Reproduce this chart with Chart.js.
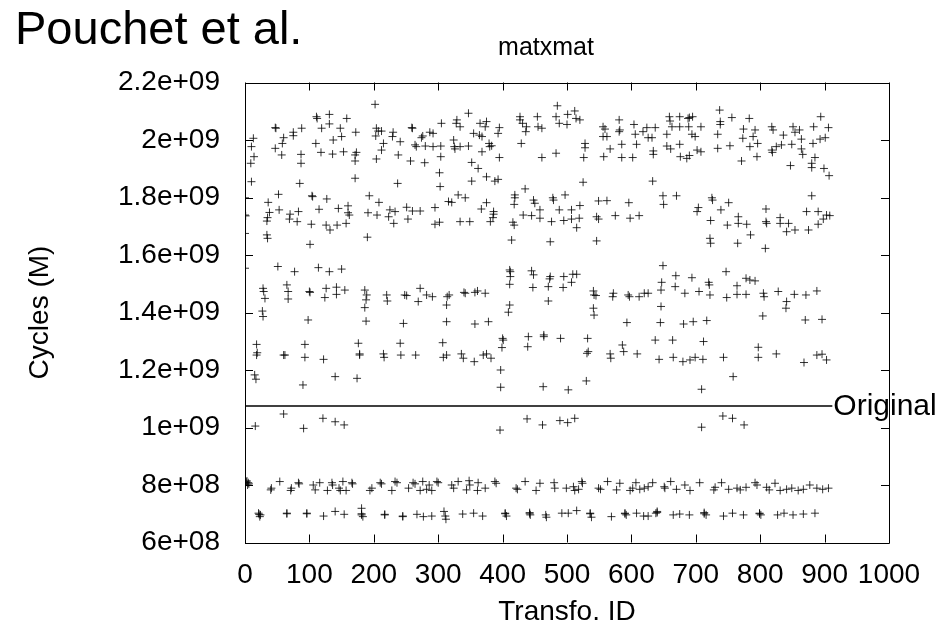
<!DOCTYPE html>
<html>
<head>
<meta charset="utf-8">
<script src="https://cdn.jsdelivr.net/npm/chart.js@4/dist/chart.umd.min.js"></script>
<style>
  body { margin: 0; background: #fff; }
  canvas { display: block; }
</style>
</head>
<body>
<canvas id="cyclesChart" width="939" height="632"></canvas>
<script>
// [transformation id, cycles in millions]
var band2000 = [
  [202,2124],[111,2081],[112,2075],[131,2089],[158,2075],[131,2056],[47,2043],[48,2041],[60,2008],[75,2027],
  [75,2015],[88,2041],[119,2041],[148,2041],[150,2012],[137,2000],[172,2027],[204,2041],[207,2031],[212,2031],
  [203,2014],[230,2027],[229,2012],[241,1994],[259,2043],[260,2041],[276,2014],[274,2008],[287,2027],[292,2023],
  [305,2058],[13,2006],[10,1977],[14,1942],[9,1919],[10,1855],[47,1971],[58,1988],[57,1948],[87,1950],
  [87,1919],[85,1849],[110,1988],[118,1957],[136,1951],[153,1959],[171,1948],[173,1957],[171,1927],[171,1867],
  [215,1988],[212,1965],[204,1934],[238,1948],[237,1849],[257,1927],[279,1921],[264,1983],[266,1977],[280,1979],
  [292,1977],[304,1979],[304,1942],[302,1886],[303,1838],
  [347,2093],[329,2070],[328,2058],[334,2046],[365,2058],[375,2064],[373,2046],[355,2023],[364,2017],[368,2012],
  [395,2043],[393,2023],[427,2081],[427,2070],[431,2058],[437,2046],[436,2029],[454,2081],[455,2046],[461,2041],
  [485,2119],[483,2081],[488,2058],[500,2054],[501,2089],[512,2101],[514,2075],[520,2070],[556,2046],[559,2038],
  [556,2012],[562,2012],[581,2070],[581,2029],[582,2035],[604,2054],[606,2020],[618,2029],[624,2043],[626,2008],
  [324,2000],[325,1977],[326,1969],[334,1977],[347,1979],[368,1959],[379,1988],[380,1977],[383,1980],[395,1939],
  [352,1922],[362,1901],[429,1988],[461,1939],[483,1954],[528,1988],[528,1973],[526,1939],[567,1969],[585,1985],
  [608,1985],[557,1942],[585,1939],[602,1939],[352,1857],[375,1872],[388,1857],[393,1863],[525,1853],
  [737,2104],[659,2081],[660,2066],[675,2081],[688,2075],[690,2078],[695,2081],[637,2043],[632,2008],[655,2020],
  [663,2046],[675,2046],[689,2046],[694,2020],[699,2012],[708,2046],[734,2020],[738,2064],[738,2054],[756,2078],
  [774,2038],[783,2075],[792,2035],[789,2012],[773,2006],[818,2046],[820,2035],[836,2017],[851,2046],[854,2027],
  [861,2035],[883,2046],[894,2081],[906,2043],[901,2008],[893,2003],[882,1988],[864,2003],[771,1927],[795,1942],
  [847,1911],[880,1904],[880,1919],[885,1939],[899,1901],[907,1876],[633,1857],
  [634,1962],[634,1950],[655,1979],[661,1969],[675,1985],[676,1942],[686,1936],[690,1946],[702,1965],[708,1959],
  [734,1971],[753,1980],[784,1977],[796,1988],[818,1965],[819,1957],[825,1977],[833,1983],[849,1985],[864,1969],
  [866,1950]
];

var band1750 = [
  [0,1799],[0,1739],[1,1736],[0,1675],[0,1554],[36,1783],[38,1748],[35,1730],[34,1718],[52,1811],[53,1757],
  [70,1742],[69,1725],[81,1716],[83,1751],[104,1806],[105,1803],[103,1707],[101,1637],[115,1759],[127,1795],
  [126,1704],[132,1687],[145,1762],[143,1704],[157,1710],[160,1747],[160,1771],[162,1739],[193,1806],[208,1783],
  [191,1747],[205,1739],[225,1757],[223,1733],[233,1751],[231,1710],[251,1766],[253,1725],[260,1753],[272,1753],
  [295,1765],[295,1707],[302,1714],[316,1786],[34,1670],[35,1658],[190,1662],
  [321,1783],[331,1809],[342,1799],[375,1782],[367,1760],[386,1751],[386,1742],[385,1730],[419,1809],[419,1799],
  [418,1776],[435,1830],[448,1791],[450,1780],[458,1757],[432,1739],[445,1737],[458,1728],[478,1799],[479,1791],
  [497,1809],[488,1757],[476,1716],[507,1757],[520,1772],[495,1720],[507,1725],[519,1728],[515,1695],[334,1716],
  [349,1716],[381,1716],[416,1714],[418,1704],[549,1788],[562,1789],[546,1733],[549,1725],[575,1737],[596,1782],
  [598,1728],[612,1737],[414,1652],[474,1646],[546,1649],
  [649,1806],[650,1776],[670,1806],[725,1799],[726,1791],[751,1782],[739,1757],[704,1765],[702,1751],[723,1720],
  [749,1704],[766,1733],[766,1710],[779,1707],[785,1670],[809,1760],[809,1716],[810,1710],[831,1730],[831,1710],
  [844,1710],[841,1681],[854,1687],[875,1687],[872,1751],[890,1751],[890,1707],[898,1725],[903,1739],[908,1737],
  [880,1806],[722,1658],[723,1641],[765,1641],[808,1623]
];

var band1450 = [
  [51,1560],[77,1542],[114,1556],[131,1542],[150,1551],
  [28,1484],[29,1473],[31,1449],[65,1496],[67,1473],[67,1447],[100,1473],[101,1470],[126,1484],[124,1452],
  [142,1488],[142,1463],[155,1478],[186,1478],[189,1461],[188,1444],[186,1417],[220,1461],[221,1440],[248,1461],
  [251,1459],[272,1484],[269,1438],[282,1461],[291,1455],[314,1455],[313,1426],[27,1405],
  [28,1386],[98,1374],[188,1370],[246,1362],[313,1368],
  [411,1548],[412,1542],[412,1525],[411,1498],[445,1545],[448,1531],[447,1487],[474,1525],[473,1517],[471,1490],
  [495,1525],[494,1487],[509,1533],[515,1533],[507,1505],[317,1461],[340,1470],[342,1467],[357,1470],[361,1475],
  [373,1467],[411,1426],[409,1401],[471,1440],[541,1475],[542,1461],[545,1459],[541,1415],[572,1467],[571,1455],
  [595,1461],[597,1455],[612,1455],[620,1467],[626,1467],
  [357,1360],[378,1368],[542,1391],[593,1365],
  [649,1563],[647,1505],[646,1478],[646,1421],[669,1528],[668,1490],[694,1521],[720,1505],[721,1496],[722,1461],
  [747,1542],[748,1452],[764,1493],[764,1463],[778,1519],[784,1513],[792,1510],[778,1463],[805,1467],[806,1455],
  [828,1473],[853,1463],[841,1438],[840,1415],[871,1461],[888,1475],[683,1467],[705,1473],
  [645,1365],[681,1360],[696,1368],[717,1372],[804,1388],[870,1374],[896,1376]
];

var band1250 = [
  [18,1289],[19,1260],[18,1252],[60,1252],[62,1252],[93,1289],[93,1244],[122,1237],[176,1293],[178,1256],
  [178,1252],[215,1256],[216,1244],[241,1293],[242,1252],[265,1252],[307,1295],[308,1244],[313,1252],[15,1183],
  [17,1168],[90,1148],[140,1177],[174,1171],
  [336,1256],[339,1241],[356,1229],[370,1252],[375,1256],[382,1241],[400,1310],[401,1304],[399,1278],[397,1200],
  [397,1140],[440,1316],[439,1281],[464,1322],[464,1316],[490,1310],[463,1142],[502,1131],[532,1310],[531,1258],
  [533,1264],[530,1162],[567,1256],[568,1241],[586,1287],[588,1264],[609,1256],
  [637,1304],[664,1304],[643,1237],[665,1244],[680,1229],[691,1235],[699,1244],[712,1299],[711,1237],[743,1244],
  [797,1279],[797,1244],[825,1256],[868,1226],[888,1252],[896,1255],[903,1235],[758,1177],[709,1133]
];

var band1000 = [
  [16,1005],[60,1047],[91,997],[121,1032],[140,1020],[154,1009],[396,991],[438,1030],[462,1009],[489,1024],
  [501,1017],[512,1032],[709,1001],[742,1040],[757,1032],[775,1009]
];

var band800 = [
  [3,814],[2,810],[5,808],[6,804],[4,800],[41,789],[40,783],[54,812],[72,789],[71,781],[83,808],[84,804],
  [106,800],[109,783],[116,808],[128,781],[135,808],[136,800],[146,789],[148,781],[152,812],[157,781],[166,808],
  [167,804],[194,781],[197,789],[210,808],[212,804],[228,781],[233,812],[236,808],[254,789],[261,808],[264,804],
  [272,781],[276,812],[282,785],[286,800],[290,781],[298,812],[300,808],
  [321,800],[324,789],[331,812],[344,783],[348,815],[349,800],[361,781],[362,808],[373,789],[388,812],[390,806],
  [421,789],[423,785],[435,812],[452,781],[458,806],[480,808],[481,789],[499,789],[510,794],[512,781],[518,785],
  [523,812],[524,806],[549,789],[552,785],[563,812],[577,783],[582,806],[598,781],[602,789],[607,808],[613,785],
  [620,789],[626,794],
  [633,808],[651,794],[652,789],[661,812],[670,785],[683,800],[691,781],[706,808],[728,783],[730,792],[740,808],
  [751,785],[764,789],[769,783],[778,792],[792,808],[795,800],[810,792],[814,783],[823,806],[831,781],[841,785],
  [849,789],[859,781],[867,785],[877,800],[888,789],[897,785],[906,789]
];

var band700 = [
  [21,702],[22,698],[24,696],[23,690],[65,702],[65,700],[96,702],[96,700],[122,692],[140,708],[154,698],[181,719],
  [181,696],[181,700],[183,690],[217,696],[217,698],[245,690],[245,692],[267,698],[277,690],[290,692],
  [309,708],[311,692],[312,681],[338,699],[355,702],[369,692],[404,702],[404,700],[406,692],[442,704],[442,700],
  [443,696],[467,696],[468,688],[492,702],[502,702],[515,711],[536,702],[536,700],[538,688],[569,690],[590,702],
  [590,700],[592,696],[608,702],[619,692],[626,692],
  [638,702],[640,708],[640,704],[665,696],[675,699],[690,696],[713,704],[713,700],[716,696],[743,692],[757,702],
  [774,696],[799,702],[799,700],[801,696],[827,696],[837,702],[851,696],[867,699],[885,702]
];

// reference run
var originalCycles = 1075;
var originalLastId = 912;

var xTickLabels = ["0", "100", "200", "300", "400", "500", "600", "700", "800", "900", "1000"];
var yTickLabels = ["6e+08", "8e+08", "1e+09", "1.2e+09", "1.4e+09", "1.6e+09", "1.8e+09", "2e+09", "2.2e+09"];

var allPoints = [].concat(band2000, band1750, band1450, band1250, band1000, band800, band700).map(function (p) {
   return { x: p[0], y: p[1] };
});

Chart.defaults.font.family = "'Liberation Sans', Arial, sans-serif";
Chart.defaults.color = "#000";

// box with inward ticks on all four sides, plus the page labels
var frame = {
   id: "frame",
   afterDraw: function (chart) {
      var ctx = chart.ctx;
      var a = chart.chartArea;
      var xs = chart.scales.x, ys = chart.scales.y;
      ctx.save();
      ctx.strokeStyle = "#000";
      ctx.lineWidth = 1;
      ctx.beginPath();
      ctx.rect(Math.round(a.left) + 0.5, Math.round(a.top) + 0.5, Math.round(a.right - a.left), Math.round(a.bottom - a.top));
      xs.ticks.forEach(function (t) {
         var px = Math.round(xs.getPixelForValue(t.value)) + 0.5;
         ctx.moveTo(px, a.bottom);
         ctx.lineTo(px, a.bottom - 8);
         ctx.moveTo(px, a.top);
         ctx.lineTo(px, a.top + 8);
      });
      ys.ticks.forEach(function (t) {
         var py = Math.round(ys.getPixelForValue(t.value)) + 0.5;
         ctx.moveTo(a.left, py);
         ctx.lineTo(a.left + 8, py);
         ctx.moveTo(a.right, py);
         ctx.lineTo(a.right - 8, py);
      });
      ctx.stroke();

      ctx.fillStyle = "#000";
      ctx.textBaseline = "alphabetic";
      ctx.textAlign = "left";
      ctx.font = "47px 'Liberation Sans', Arial, sans-serif";
      ctx.fillText("Pouchet et al.", 15, 44);
      ctx.textAlign = "center";
      ctx.font = "25px 'Liberation Sans', Arial, sans-serif";
      ctx.fillText("matxmat", 546, 55);

      ctx.textAlign = "left";
      ctx.textBaseline = "middle";
      ctx.font = "30px 'Liberation Sans', Arial, sans-serif";
      ctx.fillText("Original", xs.getPixelForValue(originalLastId) + 1, ys.getPixelForValue(originalCycles) + 1);
      ctx.restore();
   },
};

var ctx = document.getElementById("cyclesChart").getContext("2d");
var chart = new Chart(ctx, {
   type: "scatter",
   data: {
      datasets: [
         {
            label: "Original",
            data: [{ x: 0, y: originalCycles }, { x: originalLastId, y: originalCycles }],
            showLine: true,
            borderColor: "#000",
            borderWidth: 1.5,
            pointRadius: 0,
         },
         {
            label: "matxmat",
            data: allPoints,
            pointStyle: "cross",
            pointRadius: 4,
            pointBorderWidth: 1,
            borderColor: "rgba(0,0,0,0.8)",
            backgroundColor: "rgba(0,0,0,0.8)",
         },
      ],
   },
   options: {
      responsive: false,
      animation: false,
      layout: {
         padding: { top: 82.5, right: 50, bottom: 0, left: 0 },
      },
      plugins: {
         legend: { display: false },
         tooltip: { enabled: false },
      },
      scales: {
         x: {
            type: "linear",
            min: 0,
            max: 1000,
            grid: { display: false, drawTicks: false },
            border: { display: false },
            ticks: {
               stepSize: 100,
               autoSkip: false,
               maxRotation: 0,
               minRotation: 0,
               padding: 16,
               font: { size: 28 },
               callback: function (v, i) { return xTickLabels[i]; },
            },
            title: {
               display: true,
               text: "Transfo. ID",
               font: { size: 28 },
               padding: { top: 0, bottom: 3 },
            },
            afterFit: function (scale) { scale.height = 89.5; },
         },
         y: {
            min: 600,
            max: 2200,
            grid: { display: false, drawTicks: false },
            border: { display: false },
            ticks: {
               stepSize: 200,
               padding: 25,
               font: { size: 28 },
               callback: function (v, i) { return yTickLabels[i]; },
            },
            title: {
               display: true,
               text: "Cycles (M)",
               font: { size: 28 },
               padding: { top: 23, bottom: 0 },
            },
            afterFit: function (scale) { scale.width = 245; },
         },
      },
   },
   plugins: [frame],
});
</script>
</body>
</html>
